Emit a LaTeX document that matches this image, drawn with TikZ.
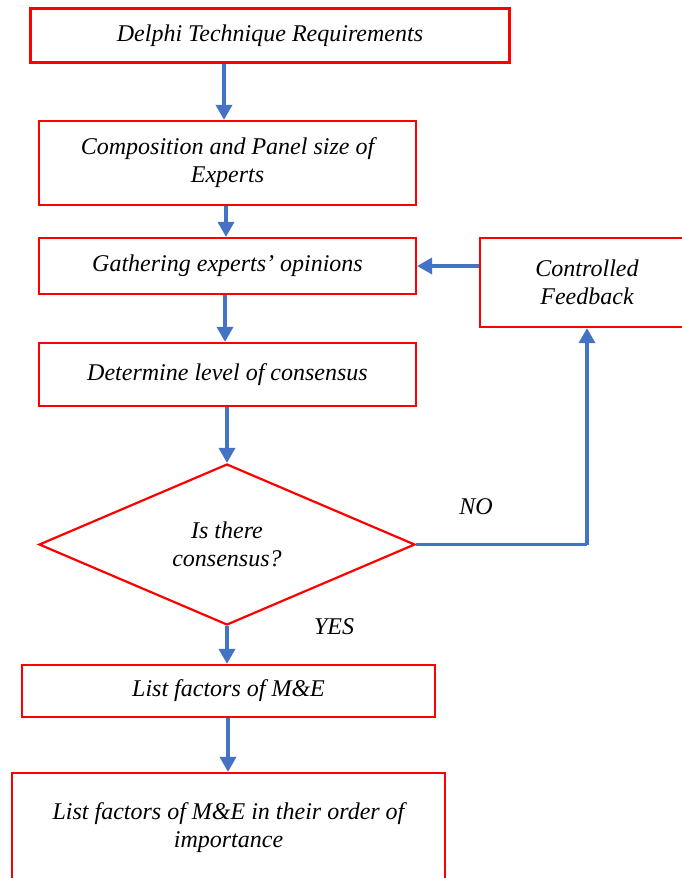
\documentclass[tikz,border=0pt]{standalone}
\usepackage{fontspec}
\setmainfont{Liberation Serif}
\usetikzlibrary{arrows.meta,shapes.geometric}
\definecolor{flowblue}{RGB}{68,114,196}
\tikzset{
  box/.style={draw=red, line width=2.2pt, rectangle, inner sep=0pt, align=center,
    font=\fontsize{24}{28}\selectfont\itshape},
  decision/.style={draw=red, line width=2.2pt, diamond, inner sep=0pt, align=center,
    font=\fontsize{24}{28}\selectfont\itshape},
  arr/.style={draw=flowblue, line width=3.5pt, -{Triangle[length=15pt,width=16pt]}},
  lnk/.style={draw=flowblue, line width=3.5pt},
  lbl/.style={font=\fontsize{24}{28}\selectfont\itshape, inner sep=0pt}
}
\begin{document}
\begin{tikzpicture}[x=1pt,y=-1pt]
\useasboundingbox (0,0) rectangle (682,878);
\clip (0,0) rectangle (682,878);
\node[box, minimum width=479pt, minimum height=54pt] (b1) at (270,35.5) {Delphi Technique Requirements};
\node[box, minimum width=377pt, minimum height=84pt] (b2) at (227.5,163) {Composition and Panel size of\\Experts};
\node[box, minimum width=377pt, minimum height=56pt] (b3) at (227.5,266) {Gathering experts’ opinions};
\node[box, minimum width=214pt, minimum height=89pt] (fb) at (587,282.5) {Controlled\\Feedback};
\node[box, minimum width=377pt, minimum height=63pt] (b4) at (227.5,374.5) {Determine level of consensus};
\node[decision, minimum width=376pt, minimum height=161pt] (d) at (227,544.5) {Is there\\consensus?};
\node[box, minimum width=413pt, minimum height=52pt] (b5) at (228.5,691) {List factors of M\&E};
\node[box, minimum width=433pt, minimum height=109pt] (b6) at (228.5,827.5) {List factors of M\&E in their order of\\importance};
\node[lbl] (no) at (476,507) {NO};
\node[lbl] (yes) at (334,627) {YES};
\coordinate (x1) at (224,0);
\coordinate (x2) at (226,0);
\coordinate (x3) at (225,0);
\coordinate (x4) at (227,0);
\coordinate (x6) at (228,0);
\coordinate (yfb) at (0,266);
\coordinate (corner) at (587,544.5);
\draw[arr] (b1.south -| x1) -- (b2.north -| x1);
\draw[arr] (b2.south -| x2) -- (b3.north -| x2);
\draw[arr] (b3.south -| x3) -- (b4.north -| x3);
\draw[arr] (b4.south -| x4) -- (d.north);
\draw[arr] (fb.west |- yfb) -- (b3.east |- yfb);
\draw[lnk] (d.east) -- (corner);
\draw[arr] (corner) -- (fb.south);
\draw[arr] (d.south) -- (b5.north -| d.south);
\draw[arr] (b5.south -| x6) -- (b6.north -| x6);
\end{tikzpicture}
\end{document}
